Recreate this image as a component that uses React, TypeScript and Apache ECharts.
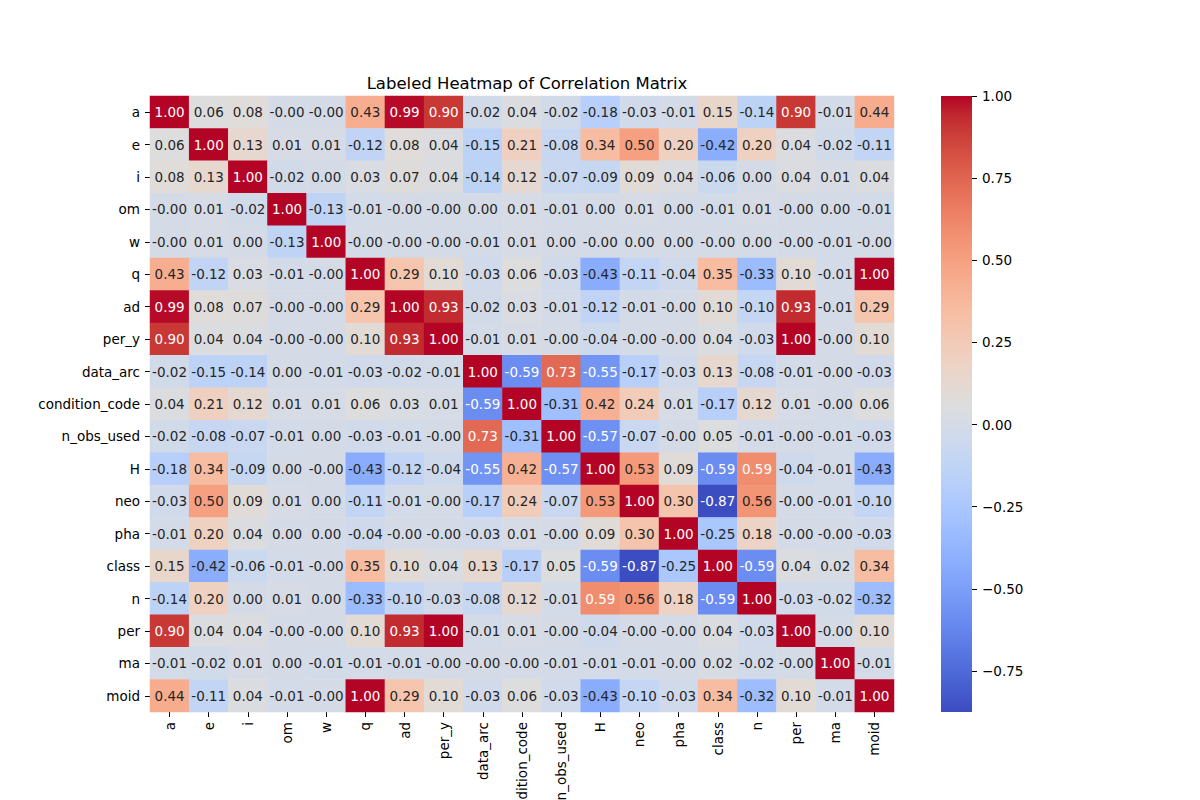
import React, { useEffect, useRef } from "react";
import * as echarts from "echarts";

const labels = [
  "a", "e", "i", "om", "w", "q", "ad", "per_y", "data_arc", "condition_code",
  "n_obs_used", "H", "neo", "pha", "class", "n", "per", "ma", "moid",
];

// -0.001 stands for a printed "-0.00"
const rowA = [1.0, 0.06, 0.08, -0.001, -0.001, 0.43, 0.99, 0.9, -0.02, 0.04, -0.02, -0.18, -0.03, -0.01, 0.15, -0.14, 0.9, -0.01, 0.44];
const rowE = [0.06, 1.0, 0.13, 0.01, 0.01, -0.12, 0.08, 0.04, -0.15, 0.21, -0.08, 0.34, 0.5, 0.2, -0.42, 0.2, 0.04, -0.02, -0.11];
const rowI = [0.08, 0.13, 1.0, -0.02, 0.0, 0.03, 0.07, 0.04, -0.14, 0.12, -0.07, -0.09, 0.09, 0.04, -0.06, 0.0, 0.04, 0.01, 0.04];
const rowOm = [-0.001, 0.01, -0.02, 1.0, -0.13, -0.01, -0.001, -0.001, 0.0, 0.01, -0.01, 0.0, 0.01, 0.0, -0.01, 0.01, -0.001, 0.0, -0.01];
const rowW = [-0.001, 0.01, 0.0, -0.13, 1.0, -0.001, -0.001, -0.001, -0.01, 0.01, 0.0, -0.001, 0.0, 0.0, -0.001, 0.0, -0.001, -0.01, -0.001];
const rowQ = [0.43, -0.12, 0.03, -0.01, -0.001, 1.0, 0.29, 0.1, -0.03, 0.06, -0.03, -0.43, -0.11, -0.04, 0.35, -0.33, 0.1, -0.01, 1.0];
const rowAd = [0.99, 0.08, 0.07, -0.001, -0.001, 0.29, 1.0, 0.93, -0.02, 0.03, -0.01, -0.12, -0.01, -0.001, 0.1, -0.1, 0.93, -0.01, 0.29];
const rowPerY = [0.9, 0.04, 0.04, -0.001, -0.001, 0.1, 0.93, 1.0, -0.01, 0.01, -0.001, -0.04, -0.001, -0.001, 0.04, -0.03, 1.0, -0.001, 0.1];
const rowDataArc = [-0.02, -0.15, -0.14, 0.0, -0.01, -0.03, -0.02, -0.01, 1.0, -0.59, 0.73, -0.55, -0.17, -0.03, 0.13, -0.08, -0.01, -0.001, -0.03];
const rowCondCode = [0.04, 0.21, 0.12, 0.01, 0.01, 0.06, 0.03, 0.01, -0.59, 1.0, -0.31, 0.42, 0.24, 0.01, -0.17, 0.12, 0.01, -0.001, 0.06];
const rowNObs = [-0.02, -0.08, -0.07, -0.01, 0.0, -0.03, -0.01, -0.001, 0.73, -0.31, 1.0, -0.57, -0.07, -0.001, 0.05, -0.01, -0.001, -0.01, -0.03];
const rowH = [-0.18, 0.34, -0.09, 0.0, -0.001, -0.43, -0.12, -0.04, -0.55, 0.42, -0.57, 1.0, 0.53, 0.09, -0.59, 0.59, -0.04, -0.01, -0.43];
const rowNeo = [-0.03, 0.5, 0.09, 0.01, 0.0, -0.11, -0.01, -0.001, -0.17, 0.24, -0.07, 0.53, 1.0, 0.3, -0.87, 0.56, -0.001, -0.01, -0.1];
const rowPha = [-0.01, 0.2, 0.04, 0.0, 0.0, -0.04, -0.001, -0.001, -0.03, 0.01, -0.001, 0.09, 0.3, 1.0, -0.25, 0.18, -0.001, -0.001, -0.03];
const rowClass = [0.15, -0.42, -0.06, -0.01, -0.001, 0.35, 0.1, 0.04, 0.13, -0.17, 0.05, -0.59, -0.87, -0.25, 1.0, -0.59, 0.04, 0.02, 0.34];
const rowN = [-0.14, 0.2, 0.0, 0.01, 0.0, -0.33, -0.1, -0.03, -0.08, 0.12, -0.01, 0.59, 0.56, 0.18, -0.59, 1.0, -0.03, -0.02, -0.32];
const rowPer = [0.9, 0.04, 0.04, -0.001, -0.001, 0.1, 0.93, 1.0, -0.01, 0.01, -0.001, -0.04, -0.001, -0.001, 0.04, -0.03, 1.0, -0.001, 0.1];
const rowMa = [-0.01, -0.02, 0.01, 0.0, -0.01, -0.01, -0.01, -0.001, -0.001, -0.001, -0.01, -0.01, -0.01, -0.001, 0.02, -0.02, -0.001, 1.0, -0.01];
const rowMoid = [0.44, -0.11, 0.04, -0.01, -0.001, 1.0, 0.29, 0.1, -0.03, 0.06, -0.03, -0.43, -0.1, -0.03, 0.34, -0.32, 0.1, -0.01, 1.0];

const matrix = [
  rowA, rowE, rowI, rowOm, rowW, rowQ, rowAd, rowPerY, rowDataArc, rowCondCode,
  rowNObs, rowH, rowNeo, rowPha, rowClass, rowN, rowPer, rowMa, rowMoid,
];

const colorbarTicks = [-0.75, -0.5, -0.25, 0.0, 0.25, 0.5, 0.75, 1.0];
const VMIN = -0.875;
const VMAX = 1.0;

// coolwarm colormap (Moreland smooth cool-warm), evenly spaced stops
const coolwarm: number[][] = [
  [59, 76, 192], [68, 90, 204], [77, 104, 215], [87, 117, 225], [98, 130, 234],
  [108, 142, 241], [119, 154, 247], [130, 165, 251], [141, 176, 254], [152, 185, 255],
  [163, 194, 255], [174, 201, 253], [184, 208, 249], [194, 213, 244], [204, 217, 238],
  [213, 219, 230], [221, 221, 221], [229, 216, 209], [236, 211, 197], [241, 204, 185],
  [245, 196, 173], [247, 187, 160], [247, 177, 148], [247, 166, 135], [244, 154, 123],
  [241, 141, 111], [236, 127, 99], [229, 112, 88], [222, 96, 77], [213, 80, 66],
  [203, 62, 56], [192, 40, 47], [180, 4, 38],
];
const toHex = (c: number[]) =>
  "#" + c.map((v) => Math.round(v).toString(16).padStart(2, "0")).join("");
const coolwarmHex = coolwarm.map(toHex);

function colorAt(v: number): number[] {
  let t = (v - VMIN) / (VMAX - VMIN);
  t = Math.max(0, Math.min(1, t));
  const pos = t * (coolwarm.length - 1);
  const i = Math.min(Math.floor(pos), coolwarm.length - 2);
  const f = pos - i;
  return coolwarm[i].map((c, k) => c + (coolwarm[i + 1][k] - c) * f);
}
function luminance(c: number[]): number {
  const lin = c.map((x) => {
    const s = x / 255;
    return s <= 0.03928 ? s / 12.92 : Math.pow((s + 0.055) / 1.055, 2.4);
  });
  return 0.2126 * lin[0] + 0.7152 * lin[1] + 0.0722 * lin[2];
}

const FONT = "DejaVu Sans";

export default function App() {
  const ref = useRef<HTMLDivElement>(null);
  useEffect(() => {
    if (!ref.current) return;
    const chart = echarts.init(ref.current, null, { renderer: "svg" });

    const data: any[] = [];
    matrix.forEach((row, r) => {
      row.forEach((v, c) => {
        const lum = luminance(colorAt(v));
        data.push({
          value: [c, r, v],
          label: { color: lum < 0.408 ? "#ffffff" : "#262626" },
        });
      });
    });

    const stops = coolwarmHex.map((col, i) => ({
      offset: i / (coolwarmHex.length - 1),
      color: col,
    }));

    chart.setOption({
      animation: false,
      backgroundColor: "#ffffff",
      title: {
        text: "Labeled Heatmap of Correlation Matrix",
        left: 522,
        textAlign: "center",
        top: 70,
        textStyle: {
          fontFamily: FONT,
          fontSize: 16.5,
          fontWeight: "normal",
          color: "#000000",
        },
      },
      grid: [
        { left: 150, top: 96, width: 744, height: 616, outerBoundsMode: "none", containLabel: false },
        { left: 941, top: 96, width: 31, height: 616, outerBoundsMode: "none", containLabel: false },
      ],
      xAxis: [
        {
          type: "category",
          gridIndex: 0,
          data: labels,
          position: "bottom",
          axisLine: { show: false },
          axisTick: {
            show: true,
            alignWithLabel: true,
            length: 5,
            lineStyle: { color: "#000000", width: 1 },
          },
          axisLabel: {
            rotate: 90,
            interval: 0,
            margin: 10,
            fontFamily: FONT,
            fontSize: 13.5,
            color: "#000000",
          },
          splitLine: { show: false },
        },
        {
          type: "category",
          gridIndex: 1,
          data: ["cb"],
          show: false,
        },
      ],
      yAxis: [
        {
          type: "category",
          gridIndex: 0,
          data: labels,
          inverse: true,
          axisLine: { show: false },
          axisTick: {
            show: true,
            alignWithLabel: true,
            length: 5,
            lineStyle: { color: "#000000", width: 1 },
          },
          axisLabel: {
            interval: 0,
            margin: 10,
            fontFamily: FONT,
            fontSize: 13.5,
            color: "#000000",
          },
          splitLine: { show: false },
        },
        {
          type: "value",
          gridIndex: 1,
          position: "right",
          min: VMIN,
          max: VMAX,
          axisLine: { show: false },
          splitLine: { show: false },
          axisTick: {
            show: true,
            length: 5,
            customValues: colorbarTicks,
            lineStyle: { color: "#000000", width: 1 },
          },
          axisLabel: {
            margin: 10,
            customValues: colorbarTicks,
            formatter: (v: number) => v.toFixed(2).replace("-", "\u2212"),
            fontFamily: FONT,
            fontSize: 13.5,
            color: "#000000",
          },
        },
      ],
      visualMap: {
        type: "continuous",
        show: false,
        seriesIndex: 0,
        dimension: 2,
        min: VMIN,
        max: VMAX,
        inRange: { color: coolwarmHex },
      },
      series: [
        {
          type: "heatmap",
          xAxisIndex: 0,
          yAxisIndex: 0,
          data,
          label: {
            show: true,
            fontFamily: FONT,
            fontSize: 13.5,
            formatter: (p: any) => p.value[2].toFixed(2),
          },
          itemStyle: { borderWidth: 0 },
          emphasis: { disabled: true },
        },
        {
          type: "custom",
          xAxisIndex: 1,
          yAxisIndex: 1,
          data: [[0, VMAX]],
          renderItem: (params: any) => {
            const cs = params.coordSys;
            return {
              type: "rect",
              shape: { x: cs.x, y: cs.y, width: cs.width, height: cs.height },
              style: {
                fill: new echarts.graphic.LinearGradient(0, 1, 0, 0, stops),
              },
            };
          },
          silent: true,
        },
      ],
    });

    return () => chart.dispose();
  }, []);

  return (
    <div
      ref={ref}
      style={{ position: "absolute", left: 0, top: 0, width: 1200, height: 800 }}
    />
  );
}
